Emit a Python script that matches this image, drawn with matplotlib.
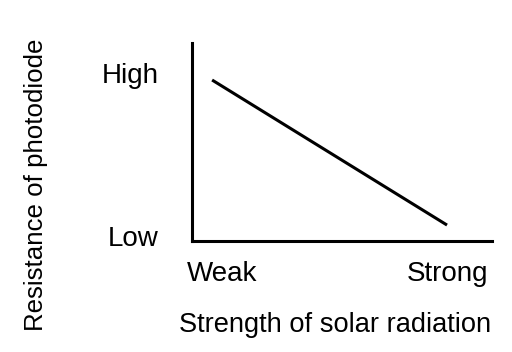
import matplotlib
matplotlib.use('Agg')
import matplotlib.pyplot as plt

plt.rcParams['font.family'] = ['Liberation Sans', 'DejaVu Sans']

# line endpoints (relative units, axes run 0..100)
strength = [6.7, 85.0]
resistance = [81.3, 8.1]

y_ticks = [84.8, 2.5]
y_labels = ['High', 'Low']
x_ticks = [10.0, 85.0]
x_labels = ['Weak', 'Strong']

fig = plt.figure(figsize=(5.12, 3.52), dpi=100)
ax = fig.add_axes([0.375, 0.315, 0.586, 0.563])

ax.plot(strength, resistance, color='black', linewidth=2.2, solid_capstyle='butt')

ax.set_xlim(0, 100)
ax.set_ylim(0, 100)
ax.spines['top'].set_visible(False)
ax.spines['right'].set_visible(False)
ax.spines['left'].set_linewidth(2.2)
ax.spines['bottom'].set_linewidth(2.2)

ax.set_yticks(y_ticks)
ax.set_yticklabels(y_labels, fontsize=20)
ax.set_xticks(x_ticks)
ax.set_xticklabels(x_labels, fontsize=20)
ax.tick_params(axis='y', length=0, pad=24)
ax.tick_params(axis='x', length=0, pad=14)

ax.set_xlabel('Strength of solar radiation', fontsize=19.6)
ax.xaxis.set_label_coords(0.477, -0.36)
ax.set_ylabel('Resistance of photodiode', fontsize=18.6)
ax.yaxis.set_label_coords(-0.48, 0.283)

fig.savefig('out.png', dpi=100)
